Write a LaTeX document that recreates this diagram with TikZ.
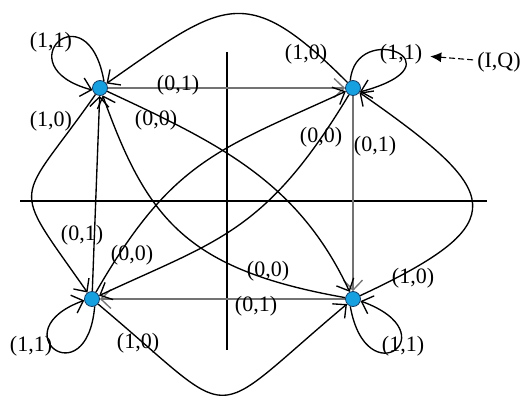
\documentclass[tikz,border=0pt]{standalone}
\usepackage{fontspec}
\setmainfont{Liberation Serif}
\usetikzlibrary{arrows.meta,calc}
\definecolor{nodefill}{RGB}{22,160,224}
\definecolor{nodeline}{RGB}{20,60,100}
\begin{document}
\begin{tikzpicture}[x=1pt,y=1pt,
  st/.style={circle, draw=nodeline, fill=nodefill, minimum size=15pt, inner sep=0pt, line width=0.8pt},
  lab/.style={font=\fontsize{22}{25}\selectfont, inner sep=1pt},
  edge/.style={line width=1.35pt, -{Straight Barb[length=10pt,width=19pt,line width=1.35pt]}},
  gedge/.style={edge, draw=black!55},
  axis/.style={line width=1.3pt},
  iqarrow/.style={line width=1.1pt, dash pattern=on 6pt off 3pt, -{Latex[length=11pt,width=10pt]}, shorten >=7pt, shorten <=3pt}]
\useasboundingbox (0,0) rectangle (522,396);

% states
\node[st] (A) at (100,308) {};
\node[st] (B) at (353,308) {};
\node[st] (C) at (92,97) {};
\node[st] (D) at (353,97) {};

% axes
\coordinate (xl) at (20,195);
\coordinate (xr) at (487,195);
\coordinate (yt) at (227,344);
\coordinate (yb) at (227,46);
\draw[axis] (xl) -- (xr);
\draw[axis] (yt) -- (yb);

% straight (0,1) transitions
\draw[gedge] (A) -- (B);
\draw[gedge] (B) -- (D);
\draw[gedge] (D) -- (C);
\draw[edge] (C) -- (A);

% outer (1,0) transitions
\draw[edge] (B) .. controls (245.5,415.5) and (224.5,395) .. (A);
\draw[edge] (A) .. controls (16,188) and (8,217) .. (C);
\draw[edge] (C) .. controls (243,-29.6) and (202,-29.6) .. (D);
\draw[edge] (D) .. controls (518,174) and (502,204) .. (B);

% diagonal (0,0) transitions
\draw[edge] (A) .. controls (218,253) and (298,215) .. (D);
\draw[edge] (D) .. controls (185.6,126.5) and (146.9,177.4) .. (A);
\draw[edge] (C) .. controls (172,235.6) and (217,245.6) .. (B);
\draw[edge] (B) .. controls (265.5,163) and (218,156) .. (C);

% self loops (1,1)
\draw[edge] (A.60) .. controls ($(A.60)+(100:95)$) and ($(A.195)+(165:92)$) .. (A.195);
\draw[edge] (B.110) .. controls ($(B.110)+(85:62)$) and ($(B.-30)+(15:110)$) .. (B.-30);
\draw[edge] (C.-70) .. controls ($(C.-70)+(-95:92)$) and ($(C.190)+(200:90)$) .. (C.190);
\draw[edge] (D.-110) .. controls ($(D.-110)+(-80:92)$) and ($(D.-15)+(-20:95)$) .. (D.-15);

% labels
\node[lab] (lA11) at (51,354) {(1,1)};
\node[lab] (lA01) at (178,311) {(0,1)};
\node[lab] (lA10) at (51,275) {(1,0)};
\node[lab] (lA00) at (156,276) {(0,0)};
\node[lab] (lB10) at (306,342) {(1,0)};
\node[lab] (lB11) at (401,342) {(1,1)};
\node[lab] (lB00) at (321,259) {(0,0)};
\node[lab] (lB01) at (375,250) {(0,1)};
\node[lab] (lC01) at (82,161) {(0,1)};
\node[lab] (lC00) at (132,141) {(0,0)};
\node[lab] (lC10) at (138,53) {(1,0)};
\node[lab] (lC11) at (31,50) {(1,1)};
\node[lab] (lD00) at (268,125) {(0,0)};
\node[lab] (lD01) at (256,90) {(0,1)};
\node[lab] (lD10) at (413,118) {(1,0)};
\node[lab] (lD11) at (403,50) {(1,1)};
\node[lab] (IQ) at (499,334) {(I,Q)};

\draw[iqarrow] (IQ) -- (lB11);
\end{tikzpicture}
\end{document}
